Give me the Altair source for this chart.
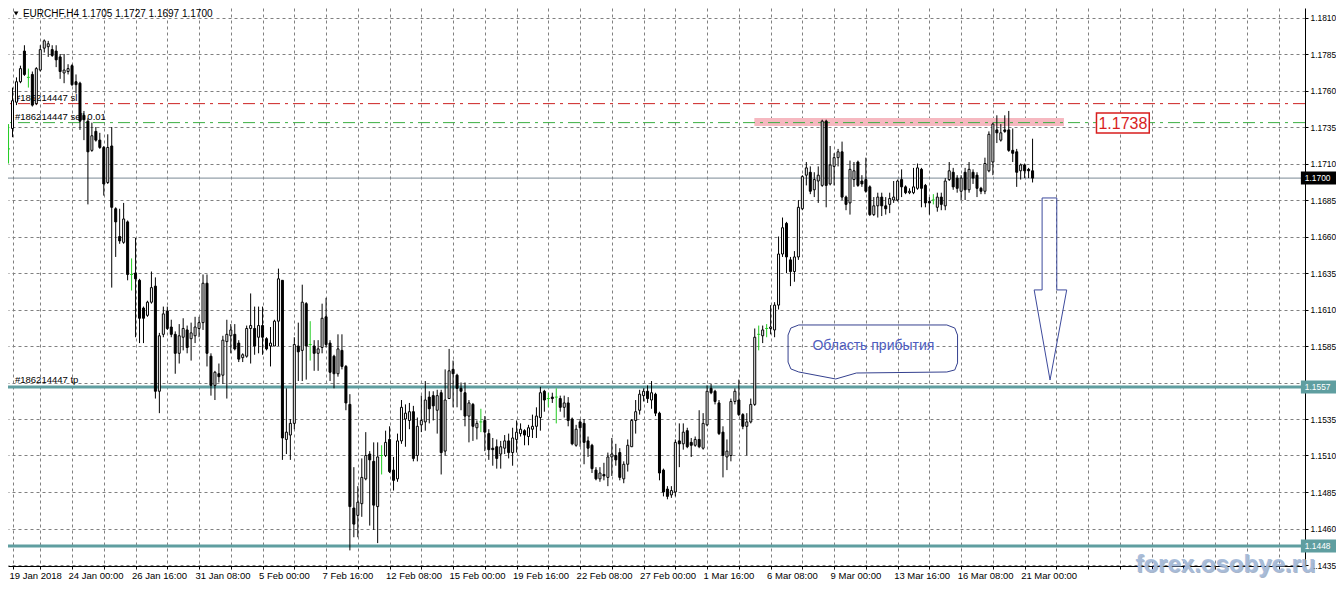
import json
import numpy as np
import pandas as pd
import altair as alt

# ---------------- data (EURCHF H4) ----------------
opens = [1.1720, 1.1734, 1.1752, 1.1766, 1.1787, 1.1769, 1.1771, 1.1751, 1.1774, 1.1789,
         1.1790, 1.1788, 1.1787, 1.1783, 1.1772, 1.1773, 1.1777, 1.1766, 1.1765, 1.1743,
         1.1739, 1.1719, 1.1732, 1.1726, 1.1721, 1.1697, 1.1722, 1.1679, 1.1660, 1.1656,
         1.1670, 1.1634, 1.1635, 1.1630, 1.1611, 1.1606, 1.1615, 1.1626, 1.1554, 1.1593,
         1.1609, 1.1598, 1.1593, 1.1580, 1.1591, 1.1596, 1.1590, 1.1592, 1.1597, 1.1601,
         1.1628, 1.1578, 1.1558, 1.1566, 1.1565, 1.1588, 1.1592, 1.1593, 1.1587, 1.1577,
         1.1578, 1.1597, 1.1597, 1.1591, 1.1599, 1.1590, 1.1585, 1.1585, 1.1602, 1.1630,
         1.1521, 1.1524, 1.1532, 1.1585, 1.1582, 1.1614, 1.1586, 1.1585, 1.1580, 1.1584,
         1.1605, 1.1587, 1.1578, 1.1566, 1.1582, 1.1571, 1.1545, 1.1474, 1.1469, 1.1477,
         1.1494, 1.1511, 1.1506, 1.1475, 1.1510, 1.1510, 1.1521, 1.1500, 1.1494, 1.1520,
         1.1535, 1.1534, 1.1540, 1.1510, 1.1531, 1.1533, 1.1550, 1.1551, 1.1541, 1.1553,
         1.1513, 1.1549, 1.1569, 1.1565, 1.1556, 1.1553, 1.1537, 1.1545, 1.1529, 1.1533,
         1.1534, 1.1525, 1.1515, 1.1516, 1.1511, 1.1515, 1.1520, 1.1512, 1.1521, 1.1525,
         1.1527, 1.1523, 1.1528, 1.1530, 1.1536, 1.1554, 1.1549, 1.1550, 1.1550, 1.1549,
         1.1543, 1.1546, 1.1535, 1.1517, 1.1533, 1.1532, 1.1520, 1.1517, 1.1500, 1.1494,
         1.1497, 1.1495, 1.1509, 1.1510, 1.1512, 1.1494, 1.1504, 1.1516, 1.1534, 1.1541,
         1.1551, 1.1554, 1.1548, 1.1552, 1.1539, 1.1500, 1.1487, 1.1483, 1.1485, 1.1520,
         1.1518, 1.1527, 1.1519, 1.1517, 1.1521, 1.1515, 1.1531, 1.1556, 1.1554, 1.1546,
         1.1526, 1.1509, 1.1510, 1.1547, 1.1548, 1.1538, 1.1530, 1.1533, 1.1545, 1.1593,
         1.1592, 1.1597, 1.1597, 1.1596, 1.1613, 1.1648, 1.1669, 1.1644, 1.1636, 1.1646,
         1.1679, 1.1702, 1.1704, 1.1692, 1.1698, 1.1695, 1.1739, 1.1696, 1.1708, 1.1714,
         1.1718, 1.1687, 1.1683, 1.1699, 1.1711, 1.1698, 1.1699, 1.1694, 1.1675, 1.1681,
         1.1687, 1.1681, 1.1682, 1.1685, 1.1685, 1.1699, 1.1694, 1.1690, 1.1690, 1.1693,
         1.1706, 1.1695, 1.1684, 1.1685, 1.1680, 1.1687, 1.1681, 1.1699, 1.1704, 1.1700,
         1.1691, 1.1704, 1.1692, 1.1704, 1.1702, 1.1693, 1.1691, 1.1705, 1.1711, 1.1733,
         1.1726, 1.1733, 1.1733, 1.1719, 1.1718, 1.1705, 1.1709, 1.1706, 1.1705]
highs = [1.1737, 1.1762, 1.1769, 1.1777, 1.1791, 1.1775, 1.1773, 1.1776, 1.1791, 1.1795,
         1.1794, 1.1791, 1.1791, 1.1785, 1.1785, 1.1778, 1.1778, 1.1771, 1.1766, 1.1746,
         1.1741, 1.1738, 1.1735, 1.1731, 1.1722, 1.1730, 1.1735, 1.1680, 1.1679, 1.1683,
         1.1671, 1.1645, 1.1659, 1.1631, 1.1612, 1.1616, 1.1636, 1.1632, 1.1594, 1.1612,
         1.1612, 1.1603, 1.1595, 1.1600, 1.1604, 1.1599, 1.1601, 1.1605, 1.1605, 1.1634,
         1.1634, 1.1580, 1.1568, 1.1573, 1.1592, 1.1603, 1.1600, 1.1600, 1.1589, 1.1580,
         1.1599, 1.1621, 1.1612, 1.1612, 1.1612, 1.1591, 1.1598, 1.1603, 1.1638, 1.1630,
         1.1556, 1.1535, 1.1591, 1.1601, 1.1627, 1.1615, 1.1602, 1.1589, 1.1589, 1.1614,
         1.1618, 1.1589, 1.1579, 1.1593, 1.1593, 1.1572, 1.1552, 1.1502, 1.1489, 1.1508,
         1.1526, 1.1513, 1.1519, 1.1519, 1.1517, 1.1527, 1.1530, 1.1509, 1.1525, 1.1548,
         1.1545, 1.1546, 1.1544, 1.1536, 1.1551, 1.1561, 1.1554, 1.1554, 1.1555, 1.1555,
         1.1569, 1.1583, 1.1575, 1.1566, 1.1560, 1.1560, 1.1548, 1.1546, 1.1534, 1.1542,
         1.1537, 1.1528, 1.1522, 1.1521, 1.1520, 1.1524, 1.1525, 1.1529, 1.1534, 1.1532,
         1.1528, 1.1531, 1.1538, 1.1543, 1.1557, 1.1555, 1.1553, 1.1553, 1.1556, 1.1551,
         1.1551, 1.1550, 1.1536, 1.1531, 1.1535, 1.1535, 1.1523, 1.1518, 1.1502, 1.1502,
         1.1505, 1.1512, 1.1522, 1.1518, 1.1515, 1.1506, 1.1521, 1.1535, 1.1548, 1.1555,
         1.1556, 1.1558, 1.1561, 1.1553, 1.1540, 1.1501, 1.1489, 1.1489, 1.1521, 1.1532,
         1.1532, 1.1529, 1.1522, 1.1523, 1.1541, 1.1539, 1.1558, 1.1559, 1.1555, 1.1548,
         1.1530, 1.1521, 1.1549, 1.1556, 1.1562, 1.1539, 1.1539, 1.1549, 1.1597, 1.1599,
         1.1599, 1.1600, 1.1613, 1.1615, 1.1660, 1.1673, 1.1670, 1.1646, 1.1650, 1.1685,
         1.1702, 1.1711, 1.1708, 1.1704, 1.1708, 1.1740, 1.1740, 1.1722, 1.1717, 1.1720,
         1.1725, 1.1688, 1.1712, 1.1711, 1.1712, 1.1702, 1.1714, 1.1695, 1.1687, 1.1690,
         1.1690, 1.1687, 1.1690, 1.1698, 1.1699, 1.1706, 1.1695, 1.1693, 1.1707, 1.1710,
         1.1707, 1.1696, 1.1687, 1.1689, 1.1690, 1.1690, 1.1700, 1.1711, 1.1707, 1.1702,
         1.1702, 1.1707, 1.1711, 1.1706, 1.1704, 1.1694, 1.1714, 1.1732, 1.1738, 1.1743,
         1.1737, 1.1743, 1.1746, 1.1734, 1.1720, 1.1710, 1.1710, 1.1707, 1.1727]
lows = [1.1710, 1.1728, 1.1750, 1.1765, 1.1770, 1.1762, 1.1749, 1.1750, 1.1773, 1.1786,
        1.1783, 1.1783, 1.1776, 1.1768, 1.1765, 1.1771, 1.1763, 1.1758, 1.1733, 1.1726,
        1.1682, 1.1718, 1.1725, 1.1720, 1.1688, 1.1696, 1.1625, 1.1646, 1.1655, 1.1655,
        1.1630, 1.1623, 1.1591, 1.1587, 1.1587, 1.1605, 1.1614, 1.1549, 1.1539, 1.1591,
        1.1596, 1.1591, 1.1566, 1.1573, 1.1582, 1.1580, 1.1575, 1.1587, 1.1591, 1.1596,
        1.1571, 1.1551, 1.1548, 1.1560, 1.1559, 1.1549, 1.1580, 1.1582, 1.1574, 1.1574,
        1.1577, 1.1573, 1.1579, 1.1580, 1.1579, 1.1582, 1.1571, 1.1585, 1.1585, 1.1507,
        1.1511, 1.1507, 1.1528, 1.1561, 1.1561, 1.1562, 1.1575, 1.1568, 1.1568, 1.1580,
        1.1584, 1.1561, 1.1556, 1.1564, 1.1569, 1.1541, 1.1445, 1.1454, 1.1454, 1.1468,
        1.1493, 1.1462, 1.1459, 1.1450, 1.1497, 1.1509, 1.1498, 1.1486, 1.1492, 1.1518,
        1.1516, 1.1528, 1.1506, 1.1506, 1.1526, 1.1527, 1.1532, 1.1534, 1.1525, 1.1497,
        1.1510, 1.1549, 1.1543, 1.1543, 1.1541, 1.1530, 1.1519, 1.1520, 1.1521, 1.1526,
        1.1513, 1.1507, 1.1503, 1.1501, 1.1501, 1.1511, 1.1508, 1.1503, 1.1512, 1.1523,
        1.1517, 1.1517, 1.1522, 1.1522, 1.1527, 1.1540, 1.1543, 1.1546, 1.1532, 1.1540,
        1.1536, 1.1530, 1.1517, 1.1516, 1.1516, 1.1504, 1.1509, 1.1498, 1.1493, 1.1492,
        1.1493, 1.1489, 1.1496, 1.1503, 1.1493, 1.1491, 1.1499, 1.1516, 1.1525, 1.1538,
        1.1547, 1.1546, 1.1542, 1.1537, 1.1493, 1.1482, 1.1480, 1.1481, 1.1482, 1.1502,
        1.1514, 1.1515, 1.1509, 1.1516, 1.1515, 1.1514, 1.1530, 1.1552, 1.1545, 1.1524,
        1.1495, 1.1500, 1.1506, 1.1545, 1.1537, 1.1528, 1.1510, 1.1532, 1.1544, 1.1582,
        1.1587, 1.1591, 1.1593, 1.1591, 1.1610, 1.1646, 1.1635, 1.1626, 1.1629, 1.1644,
        1.1678, 1.1695, 1.1689, 1.1687, 1.1683, 1.1694, 1.1680, 1.1695, 1.1695, 1.1708,
        1.1685, 1.1678, 1.1675, 1.1694, 1.1694, 1.1694, 1.1690, 1.1674, 1.1674, 1.1673,
        1.1674, 1.1675, 1.1676, 1.1683, 1.1684, 1.1687, 1.1689, 1.1689, 1.1689, 1.1692,
        1.1680, 1.1680, 1.1675, 1.1682, 1.1677, 1.1678, 1.1678, 1.1698, 1.1692, 1.1690,
        1.1685, 1.1685, 1.1690, 1.1696, 1.1687, 1.1689, 1.1689, 1.1704, 1.1702, 1.1724,
        1.1725, 1.1731, 1.1718, 1.1711, 1.1694, 1.1699, 1.1700, 1.1700, 1.1697]
closes = [1.1720, 1.1753, 1.1766, 1.1775, 1.1771, 1.1769, 1.1750, 1.1775, 1.1788, 1.1794,
          1.1792, 1.1784, 1.1781, 1.1773, 1.1774, 1.1775, 1.1764, 1.1764, 1.1739, 1.1740,
          1.1718, 1.1729, 1.1726, 1.1721, 1.1696, 1.1721, 1.1680, 1.1670, 1.1657, 1.1672,
          1.1634, 1.1634, 1.1631, 1.1604, 1.1604, 1.1615, 1.1625, 1.1554, 1.1592, 1.1607,
          1.1597, 1.1593, 1.1580, 1.1592, 1.1597, 1.1584, 1.1594, 1.1598, 1.1601, 1.1628,
          1.1580, 1.1558, 1.1567, 1.1564, 1.1589, 1.1593, 1.1596, 1.1583, 1.1576, 1.1579,
          1.1597, 1.1599, 1.1585, 1.1599, 1.1591, 1.1583, 1.1587, 1.1602, 1.1631, 1.1522,
          1.1526, 1.1532, 1.1586, 1.1581, 1.1615, 1.1585, 1.1586, 1.1580, 1.1583, 1.1604,
          1.1586, 1.1567, 1.1566, 1.1583, 1.1571, 1.1546, 1.1475, 1.1463, 1.1478, 1.1495,
          1.1510, 1.1507, 1.1476, 1.1509, 1.1510, 1.1519, 1.1499, 1.1493, 1.1520, 1.1543,
          1.1539, 1.1540, 1.1508, 1.1530, 1.1534, 1.1548, 1.1542, 1.1544, 1.1551, 1.1512,
          1.1548, 1.1568, 1.1566, 1.1556, 1.1554, 1.1537, 1.1546, 1.1530, 1.1532, 1.1533,
          1.1526, 1.1514, 1.1514, 1.1508, 1.1516, 1.1520, 1.1512, 1.1522, 1.1526, 1.1528,
          1.1524, 1.1529, 1.1530, 1.1537, 1.1553, 1.1548, 1.1549, 1.1549, 1.1550, 1.1543,
          1.1546, 1.1534, 1.1518, 1.1528, 1.1529, 1.1519, 1.1515, 1.1501, 1.1494, 1.1498,
          1.1496, 1.1509, 1.1511, 1.1507, 1.1495, 1.1504, 1.1517, 1.1534, 1.1540, 1.1552,
          1.1554, 1.1549, 1.1553, 1.1539, 1.1498, 1.1485, 1.1482, 1.1486, 1.1519, 1.1518,
          1.1526, 1.1516, 1.1517, 1.1521, 1.1516, 1.1532, 1.1554, 1.1553, 1.1547, 1.1525,
          1.1510, 1.1513, 1.1547, 1.1554, 1.1538, 1.1530, 1.1533, 1.1545, 1.1591, 1.1593,
          1.1596, 1.1597, 1.1598, 1.1613, 1.1648, 1.1666, 1.1646, 1.1636, 1.1646, 1.1680,
          1.1701, 1.1707, 1.1691, 1.1699, 1.1702, 1.1739, 1.1695, 1.1709, 1.1714, 1.1718,
          1.1687, 1.1682, 1.1706, 1.1705, 1.1695, 1.1696, 1.1691, 1.1675, 1.1681, 1.1687,
          1.1681, 1.1679, 1.1686, 1.1687, 1.1698, 1.1694, 1.1690, 1.1691, 1.1694, 1.1707,
          1.1693, 1.1683, 1.1683, 1.1685, 1.1687, 1.1682, 1.1698, 1.1705, 1.1694, 1.1693,
          1.1700, 1.1692, 1.1706, 1.1700, 1.1693, 1.1691, 1.1710, 1.1730, 1.1737, 1.1731,
          1.1731, 1.1732, 1.1719, 1.1717, 1.1704, 1.1709, 1.1705, 1.1705, 1.1700]

x_labels = ["24 Jan 00:00", "26 Jan 16:00", "31 Jan 08:00", "5 Feb 00:00", "7 Feb 16:00",
            "12 Feb 08:00", "15 Feb 00:00", "19 Feb 16:00", "22 Feb 08:00", "27 Feb 00:00",
            "1 Mar 16:00", "6 Mar 08:00", "9 Mar 00:00", "13 Mar 16:00", "16 Mar 08:00",
            "21 Mar 00:00"]
first_label = "19 Jan 2018"
y_ticks = [1.1435, 1.1460, 1.1485, 1.1510, 1.1535, 1.1560, 1.1585, 1.1610, 1.1635,
           1.1660, 1.1685, 1.1710, 1.1735, 1.1760, 1.1785, 1.1810]

bid_price = 1.1700
tp_levels = [1.1557, 1.1448]
sl_price = 1.1751
entry_price = 1.1738
header = "EURCHF,H4  1.1705 1.1727 1.1697 1.1700"
watermark = "forex.osobye.ru"
callout = "Область прибытия"

# annotation shapes, in (bar index, price) units
band_bar = [187.9, 265.9]
band_price = [1.17412, 1.17357]
tag_bar = [274.1, 287.4]
tag_price = [1.17446, 1.17309]
bubble_bar = [199.1, 236.4, 238.4, 239.1, 239.1, 238.4, 236.4, 213.6, 208.4, 199.1,
              197.1, 196.4, 196.4, 197.1, 199.1]
bubble_price = [1.15994, 1.15994, 1.15973, 1.15925, 1.15734, 1.15686, 1.15672, 1.15665,
                1.15624, 1.15672, 1.15693, 1.15740, 1.15925, 1.15973, 1.15994]
arrow_bar = [260.4, 264.1, 264.1, 266.6, 262.4, 258.4, 260.4, 260.4]
arrow_price = [1.16864, 1.16864, 1.16234, 1.16234, 1.15617, 1.16234, 1.16234, 1.16864]

# ---------------- scales ----------------
W, H = 1297, 558
S = 0.0025 / 36.5            # price per pixel
X0, X1 = 1.125, 1.125 + W / 4
Y1 = 1.1810 + 9.5 * S
Y0 = Y1 - H * S
FONT = "Liberation Sans"
AX_FS = 8.4

n = len(opens)
df = pd.DataFrame({"i": list(range(n)), "open": opens, "high": highs,
                   "low": lows, "close": closes})
df["kind"] = np.where(df.close > df.open, "bull", np.where(df.close < df.open, "bear", "doji"))
df["xl"] = df.i - 0.375
df["xr"] = df.i + 0.375

xscale = alt.Scale(domain=[X0, X1], nice=False, zero=False)
yscale = alt.Scale(domain=[Y0, Y1], nice=False, zero=False)

xvals = [X0] + [8 * k for k in range(1, 41)]
label_expr = ("datum.value < 2 ? '" + first_label + "' : "
              "((datum.value % 16 == 0 && datum.value <= 256) ? "
              + json.dumps(x_labels) + "[datum.value / 16 - 1] : '')")
ylabel_expr = "abs(datum.value - 1.156) < 0.0001 ? '' : format(datum.value, '.4f')"

xaxis = alt.Axis(values=xvals, labelExpr=label_expr, grid=True, gridDash=[3, 3],
                 gridColor="#808080", gridOpacity=1, tickSize=3, tickColor="black",
                 domainColor="black", labelAlign="left", labelFont=FONT, labelFontSize=9.5,
                 labelColor="black", labelPadding=1, labelOffset=-4, labelOverlap=False,
                 labelFlush=False, title=None)
yaxis = alt.Axis(orient="right", values=y_ticks, labelExpr=ylabel_expr, grid=True,
                 gridDash=[3, 3], gridColor="#808080", gridOpacity=1, tickSize=3,
                 tickColor="black", domainColor="black", labelFont=FONT, labelFontSize=AX_FS,
                 labelColor="black", labelPadding=2, labelOverlap=False, labelFlush=False,
                 title=None)


def X(field):
    return alt.X(field, type="quantitative", scale=xscale, axis=xaxis)


def Y(field):
    return alt.Y(field, type="quantitative", scale=yscale, axis=yaxis)


# ---------------- layers ----------------
band_df = pd.DataFrame({"x": [band_bar[0]], "x2": [band_bar[1]],
                        "y": [band_price[0]], "y2": [band_price[1]]})
band = alt.Chart(band_df).mark_rect(color="#f6b8c0").encode(
    x=X("x"), x2="x2", y=Y("y"), y2="y2")

bid_line = alt.Chart(pd.DataFrame({"p": [bid_price]})).mark_rule(
    color="#7a8894", strokeWidth=1).encode(y=Y("p"))
tp_lines = alt.Chart(pd.DataFrame({"p": tp_levels})).mark_rule(
    color="#5f9ea0", strokeWidth=3).encode(y=Y("p"))
sl_line = alt.Chart(pd.DataFrame({"p": [sl_price]})).mark_rule(
    color="#cc2222", strokeWidth=1, strokeDash=[12, 5, 3, 5]).encode(y=Y("p"))
entry_line = alt.Chart(pd.DataFrame({"p": [entry_price]})).mark_rule(
    color="#3cb043", strokeWidth=1, strokeDash=[12, 5, 3, 5]).encode(y=Y("p"))

order_texts = pd.DataFrame({
    "x": [1.625, 1.625, 1.625],
    "y": [sl_price + 3 * S, entry_price + 3 * S, tp_levels[0] + 4 * S],
    "t": ["#186214447 sl", "#186214447 sell 0.01", "#186214447 tp"],
})
order_lbl = alt.Chart(order_texts).mark_text(
    align="left", baseline="alphabetic", font=FONT, fontSize=9.5, color="black").encode(
    x=X("x"), y=Y("y"), text="t:N")

kind_color = alt.Scale(domain=["bull", "bear", "doji"], range=["black", "black", "#22cc22"])
wicks = alt.Chart(df).mark_rule(strokeWidth=1).encode(
    x=X("i"), y=Y("low"), y2="high",
    color=alt.Color("kind:N", scale=kind_color, legend=None))
bodies = alt.Chart(df).transform_filter("datum.kind != 'doji'").mark_bar(
    size=2, stroke="black", strokeWidth=1, orient="vertical").encode(
    x=X("i"), y=Y("open"), y2="close",
    fill=alt.Fill("kind:N", scale=alt.Scale(domain=["bull", "bear"], range=["white", "black"]),
                  legend=None))
doji = alt.Chart(df).transform_filter("datum.kind == 'doji'").mark_rule(
    color="#22cc22", strokeWidth=1).encode(x=X("xl"), x2="xr", y=Y("open"))

bubble_df = pd.DataFrame({"x": bubble_bar, "y": bubble_price, "o": list(range(len(bubble_bar)))})
bubble = alt.Chart(bubble_df).mark_line(color="#35418f", strokeWidth=1).encode(
    x=X("x"), y=Y("y"), order="o:Q")
bubble_txt = alt.Chart(pd.DataFrame({"x": [217.9], "y": [1.15853], "t": [callout]})).mark_text(
    font=FONT, fontSize=14, color="#4e5dc0", baseline="middle", align="center").encode(
    x=X("x"), y=Y("y"), text="t:N")

arrow_df = pd.DataFrame({"x": arrow_bar, "y": arrow_price, "o": list(range(len(arrow_bar)))})
arrow = alt.Chart(arrow_df).mark_line(color="#3d4a9c", strokeWidth=1).encode(
    x=X("x"), y=Y("y"), order="o:Q")

tag_df = pd.DataFrame({"x": [tag_bar[0]], "x2": [tag_bar[1]],
                       "y": [tag_price[0]], "y2": [tag_price[1]]})
tag_box = alt.Chart(tag_df).mark_rect(fill="white", stroke="#d81e1e", strokeWidth=1.5).encode(
    x=X("x"), x2="x2", y=Y("y"), y2="y2")
tag_txt = alt.Chart(pd.DataFrame({"x": [(tag_bar[0] + tag_bar[1]) / 2], "y": [entry_price],
                                  "t": ["%.4f" % entry_price]})).mark_text(
    font=FONT, fontSize=16, color="#d81e1e", baseline="middle", align="center", dy=1).encode(
    x=X("x"), y=Y("y"), text="t:N")

box_df = pd.DataFrame({
    "p": [bid_price] + tp_levels,
    "t": ["%.4f" % bid_price] + ["%.4f" % v for v in tp_levels],
    "c": ["black", "#5f9ea0", "#5f9ea0"],
})
box_df["x"] = 325.6
box_df["x2"] = 335.2
box_df["xt"] = 326.6
box_df["y"] = box_df.p + 6.5 * S
box_df["y2"] = box_df.p - 6.5 * S
boxes = alt.Chart(box_df).mark_rect(clip=False).encode(
    x=X("x"), x2="x2", y=Y("y"), y2="y2", color=alt.Color("c:N", scale=None))
box_txt = alt.Chart(box_df).mark_text(
    align="left", baseline="middle", font=FONT, fontSize=AX_FS, color="white", clip=False).encode(
    x=X("xt"), y=Y("p"), text="t:N")

head_df = pd.DataFrame({"x": [3.625], "y": [Y1 - 1.0 * S], "t": [header]})
head_txt = alt.Chart(head_df).mark_text(
    align="left", baseline="top", font=FONT, fontSize=10, color="black").encode(
    x=X("x"), y=Y("y"), text="t:N")
tri_df = pd.DataFrame({"x": [1.9], "y": [Y1 - 5.5 * S]})
tri = alt.Chart(tri_df).mark_point(shape="triangle-down", filled=True, size=22,
                                   color="black", opacity=1).encode(x=X("x"), y=Y("y"))

wm_df = pd.DataFrame({"x": [306.6], "y": [1.14352], "t": [watermark]})
wm_shadow = alt.Chart(wm_df).mark_text(
    font=FONT, fontWeight="bold", fontSize=24, color="#6f86a8", opacity=0.6,
    baseline="middle", align="center", dx=1, dy=1, clip=False).encode(
    x=X("x"), y=Y("y"), text="t:N")
wm = alt.Chart(wm_df).mark_text(
    font=FONT, fontWeight="bold", fontSize=24, color="#a7bcda", opacity=0.95,
    baseline="middle", align="center", clip=False).encode(
    x=X("x"), y=Y("y"), text="t:N")

chart = alt.layer(
    band, bid_line, tp_lines, sl_line, entry_line, order_lbl,
    wicks, bodies, doji,
    bubble, bubble_txt, arrow, tag_box, tag_txt,
    boxes, box_txt, head_txt, tri, wm_shadow, wm,
).properties(
    width=W, height=H,
    autosize=alt.AutoSizeParams(type="none"),
    padding={"left": 0, "top": 0, "right": 31, "bottom": 14},
    background="white",
).configure_view(stroke=None)

chart.save("out.html", embed_options={"renderer": "svg", "actions": False})
